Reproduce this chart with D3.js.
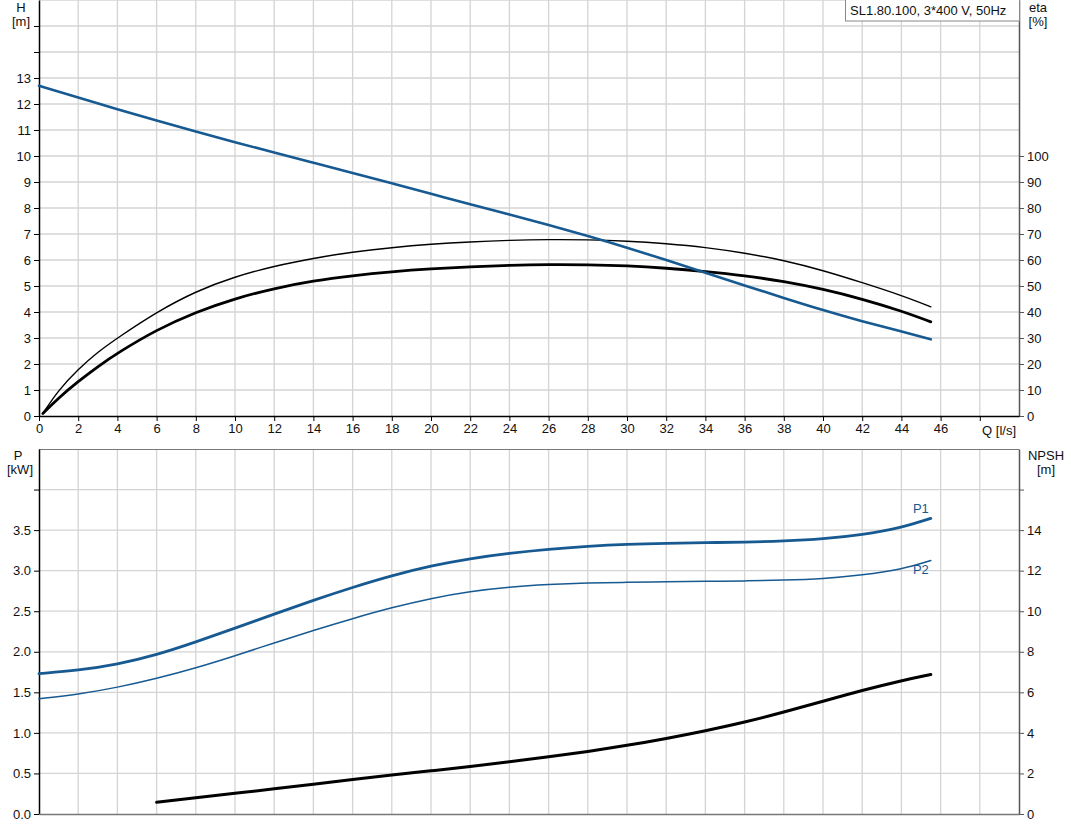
<!DOCTYPE html>
<html><head><meta charset="utf-8">
<script src="https://cdn.jsdelivr.net/npm/d3@7/dist/d3.min.js"></script>
<style>
body{margin:0;background:#fff}
svg{display:block;font-family:"Liberation Sans",Arial,sans-serif}
</style>
</head><body>
<svg id="c" width="1071" height="833"></svg>
<script>
// ---------- data ----------
const headQ   = [0,2,4,6,8,10,12,14,16,18,20,22,24,26,28,30,32,34,36,38,40,42,44,45.5];
const headH   = [12.7,12.25,11.8,11.36,10.94,10.53,10.13,9.74,9.35,8.95,8.55,8.14,7.75,7.35,6.93,6.48,6.0,5.51,5.02,4.54,4.07,3.64,3.26,2.95];

const etaQ    = [0.2,1,2,3,4,6,8,10,12,14,16,18,20,22,24,26,28,30,32,34,36,38,40,42,44,45.5];
const etaThin = [1,10,18.0,24.6,30.0,40.0,48.0,53.6,57.7,60.7,63.1,64.8,66.1,67.0,67.6,67.9,67.8,67.3,66.3,64.9,62.7,59.9,56.0,51.3,46.4,42.0];
const etaThick= [1,7.0,13.3,19.0,24.2,33.2,40.0,45.2,49.1,52.0,54.0,55.5,56.6,57.4,58.0,58.3,58.2,57.8,56.9,55.6,54.0,51.8,48.8,45.0,40.4,36.2];

const powerQ  = [0,2,4,6,8,10,12,14,16,18,20,22,24,26,28,30,32,34,36,38,40,42,44,45.5];
const powerP1 = [1.73,1.77,1.845,1.96,2.12,2.29,2.465,2.635,2.795,2.94,3.06,3.15,3.215,3.265,3.30,3.325,3.338,3.345,3.352,3.365,3.39,3.44,3.53,3.645];
const powerP2 = [1.42,1.475,1.56,1.67,1.80,1.95,2.11,2.265,2.41,2.545,2.66,2.745,2.80,2.83,2.848,2.857,2.863,2.868,2.873,2.882,2.90,2.945,3.015,3.125];

const npshQ   = [6,8,10,12,14,16,18,20,22,24,26,28,30,32,34,36,38,40,42,44,45.5];
const npshV   = [0.58,0.8,1.02,1.24,1.47,1.7,1.92,2.13,2.34,2.57,2.82,3.08,3.38,3.72,4.1,4.52,5.02,5.56,6.1,6.58,6.88];

const qTicks    = d3.range(0,50,2);
const hTicks    = d3.range(0,16,1);
const etaTicks  = d3.range(0,110,10);
const pTicks    = d3.range(0,4.5,0.5);
const npshTicks = d3.range(0,18,2);
const titleText = "SL1.80.100, 3*400 V, 50Hz";

// ---------- layout ----------
const svg = d3.select("#c");
const L = 39, R = 1019;
const top1 = 0, bot1 = 416, top2 = 449, bot2 = 814;
const blue = "#175a92", gridC = "#d4d4d4", axisC = "#000", rAxisC = "#555";
const FS = 13;

const x = d3.scaleLinear().domain([0,50]).range([L,R]);
const yH = d3.scaleLinear().domain([0,16]).range([bot1,top1]);
const yEta = d3.scaleLinear().domain([0,160]).range([bot1,top1]);
const yP = d3.scaleLinear().domain([0,4.5]).range([bot2,top2]);
const yN = d3.scaleLinear().domain([0,18]).range([bot2,top2]);

// ---------- grids ----------
function grid(yScale, yVals, t, b){
  const g = svg.append("g");
  g.selectAll(".v").data(d3.range(2,50,2)).join("line")
    .attr("x1",d=>x(d)).attr("x2",d=>x(d)).attr("y1",t).attr("y2",b)
    .attr("stroke",gridC).attr("stroke-width",1.3);
  g.selectAll(".h").data(yVals).join("line")
    .attr("x1",L).attr("x2",R).attr("y1",d=>yScale(d)).attr("y2",d=>yScale(d))
    .attr("stroke",gridC).attr("stroke-width",1.3);
}
grid(yH, d3.range(1,17,1), top1, bot1);
grid(yP, d3.range(0.5,4.5,0.5), top2, bot2);
svg.append("line").attr("x1",L).attr("x2",R).attr("y1",top2+0.5).attr("y2",top2+0.5).attr("stroke","#777").attr("stroke-width",1.2);

// ---------- axes ----------
function styleAxis(g, col){
  g.selectAll("text").attr("font-size",FS).attr("fill","#111").attr("font-family","Liberation Sans, Arial, sans-serif");
  g.selectAll("line").attr("stroke",col);
  g.select(".domain").attr("stroke",col).attr("stroke-width",1.5);
}
styleAxis(svg.append("g").attr("transform",`translate(${L},0)`)
  .call(d3.axisLeft(yH).tickValues(hTicks).tickSize(5).tickSizeOuter(0).tickFormat(d=>d<=13?d:"")), axisC);
styleAxis(svg.append("g").attr("transform",`translate(${R},0)`)
  .call(d3.axisRight(yEta).tickValues(etaTicks).tickSize(5).tickSizeOuter(0)), rAxisC);
styleAxis(svg.append("g").attr("transform",`translate(0,${bot1})`)
  .call(d3.axisBottom(x).tickValues(qTicks).tickSize(5).tickSizeOuter(0).tickFormat(d=>d===48?"":d)), axisC);
styleAxis(svg.append("g").attr("transform",`translate(${L},0)`)
  .call(d3.axisLeft(yP).tickValues(pTicks).tickSize(5).tickSizeOuter(0).tickFormat(d=>d<=3.5?d3.format(".1f")(d):"")), axisC);
styleAxis(svg.append("g").attr("transform",`translate(${R},0)`)
  .call(d3.axisRight(yN).tickValues(npshTicks).tickSize(5).tickSizeOuter(0).tickFormat(d=>d<=14?d:"")), rAxisC);
styleAxis(svg.append("g").attr("transform",`translate(0,${bot2})`)
  .call(d3.axisBottom(x).tickValues([]).tickSizeOuter(0)), "#777");

// ---------- axis titles ----------
function label(txt, xx, yy, anchor){
  svg.append("text").attr("x",xx).attr("y",yy).attr("text-anchor",anchor||"middle")
    .attr("font-size",FS).attr("fill","#111").text(txt);
}
label("H",21,12); label("[m]",21,26);
label("eta",1038,12); label("[%]",1038,26);
label("P",18,460); label("[kW]",20,474);
label("NPSH",1046,460); label("[m]",1046,474);
label("Q [l/s]",1016,435,"end");

// ---------- title box ----------
svg.append("rect").attr("x",845.5).attr("y",-1).attr("width",174).attr("height",22)
  .attr("fill","#fff").attr("stroke","#888");
svg.append("text").attr("x",850).attr("y",15).attr("font-size",FS).attr("fill","#111").text(titleText);

// ---------- curves ----------
function curve(qs, vs, ys, col, w){
  const line = d3.line().x((d,i)=>x(qs[i])).y(d=>ys(d)).curve(d3.curveBasis);
  svg.append("path").attr("d",line(vs)).attr("fill","none").attr("stroke",col)
    .attr("stroke-width",w).attr("stroke-linecap","round").attr("stroke-linejoin","round");
}
curve(etaQ, etaThin, yEta, "#000", 1.4);
curve(etaQ, etaThick, yEta, "#000", 2.8);
curve(headQ, headH, yH, blue, 2.6);
curve(powerQ, powerP2, yP, blue, 1.5);
curve(powerQ, powerP1, yP, blue, 2.8);
curve(npshQ, npshV, yN, "#000", 3);

svg.append("text").attr("x",x(45.5)-2).attr("y",yP(powerP1[powerP1.length-1])-5)
  .attr("text-anchor","end").attr("font-size",FS).attr("fill",blue).text("P1");
svg.append("text").attr("x",x(45.5)-2).attr("y",yP(powerP2[powerP2.length-1])+13)
  .attr("text-anchor","end").attr("font-size",FS).attr("fill",blue).text("P2");
</script>
</body></html>
